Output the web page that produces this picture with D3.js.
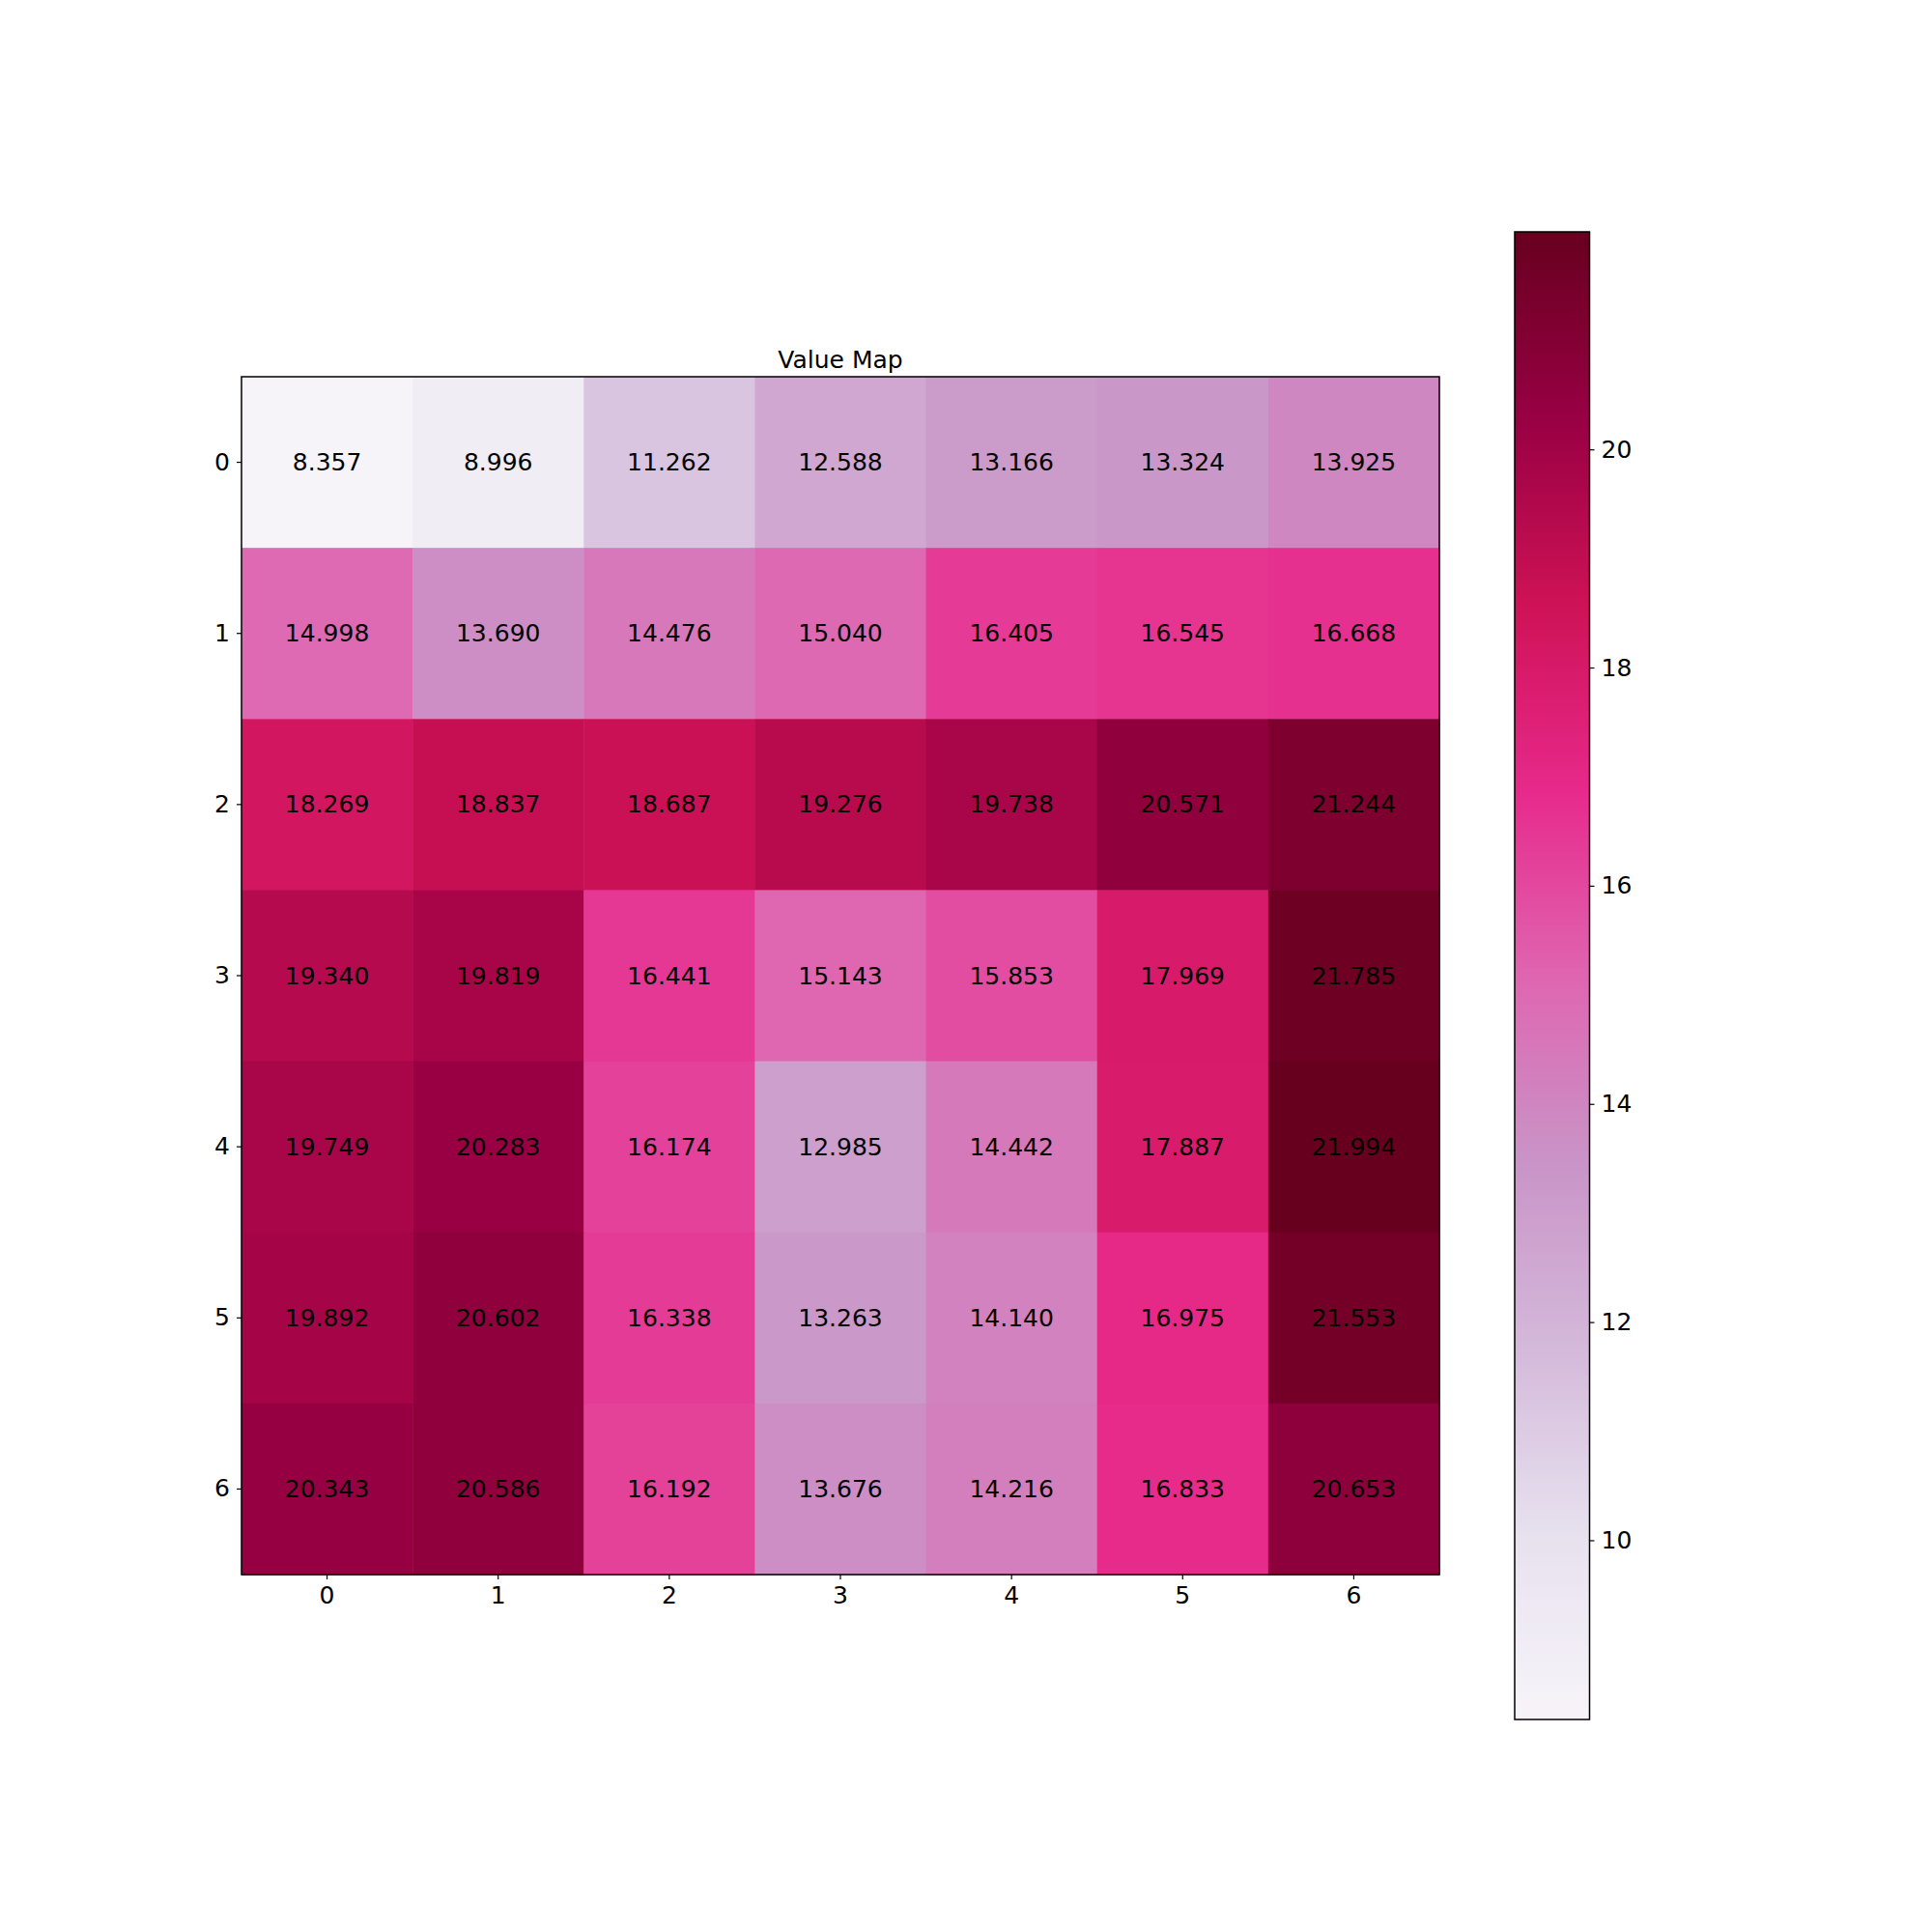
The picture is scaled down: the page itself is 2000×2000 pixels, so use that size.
<!DOCTYPE html>
<html><head><meta charset="utf-8">
<script src="https://cdn.jsdelivr.net/npm/d3@7"></script>
<style>body{margin:0;background:#fff}text{font-family:"DejaVu Sans",sans-serif}</style>
</head><body>
<svg id="c" width="2000" height="2000"></svg>
<script>
const rowLabels = ["0","1","2","3","4","5","6"];
const colLabels = ["0","1","2","3","4","5","6"];
const values = [
  [8.357, 8.996, 11.262, 12.588, 13.166, 13.324, 13.925],
  [14.998, 13.690, 14.476, 15.040, 16.405, 16.545, 16.668],
  [18.269, 18.837, 18.687, 19.276, 19.738, 20.571, 21.244],
  [19.340, 19.819, 16.441, 15.143, 15.853, 17.969, 21.785],
  [19.749, 20.283, 16.174, 12.985, 14.442, 17.887, 21.994],
  [19.892, 20.602, 16.338, 13.263, 14.140, 16.975, 21.553],
  [20.343, 20.586, 16.192, 13.676, 14.216, 16.833, 20.653]
];
const colorbarTicks = [10, 12, 14, 16, 18, 20];
const title = "Value Map";
const puRd = ["#f7f4f9","#e7e1ef","#d4b9da","#c994c7","#df65b0","#e7298a","#ce1256","#980043","#67001f"];

const svg = d3.select("#c");
const L = 250, T = 390, W = 1240, H = 1240;
const flat = values.flat();
const vmin = d3.min(flat), vmax = d3.max(flat);
const t = d3.scaleLinear().domain([vmin, vmax]).range([0, 1]);
const cmap = d3.scaleLinear().domain(d3.range(puRd.length).map(i => i / (puRd.length - 1))).range(puRd).interpolate(d3.interpolateRgb).clamp(true);
const color = v => cmap(t(v));

const x = d3.scaleBand().domain(colLabels).range([L, L + W]);
const y = d3.scaleBand().domain(rowLabels).range([T, T + H]);

const cells = [];
values.forEach((row, i) => row.forEach((v, j) => cells.push({r: rowLabels[i], c: colLabels[j], v})));

svg.append("g").selectAll("rect").data(cells).join("rect")
  .attr("x", d => x(d.c)).attr("y", d => y(d.r))
  .attr("width", x.bandwidth() + 0.5).attr("height", y.bandwidth() + 0.5)
  .attr("fill", d => color(d.v));

svg.append("g").selectAll("text").data(cells).join("text")
  .attr("x", d => x(d.c) + x.bandwidth() / 2)
  .attr("y", d => y(d.r) + y.bandwidth() / 2)
  .attr("text-anchor", "middle").attr("dominant-baseline", "central")
  .attr("font-size", 25).attr("fill", "#000")
  .text(d => d.v.toFixed(3));

svg.append("rect").attr("x", L).attr("y", T).attr("width", W).attr("height", H)
  .attr("fill", "none").attr("stroke", "#000").attr("stroke-width", 1.5);

const xAxis = svg.append("g").attr("transform", `translate(0,${T + H})`)
  .call(d3.axisBottom(x).tickSize(5).tickPadding(7));
const yAxis = svg.append("g").attr("transform", `translate(${L},0)`)
  .call(d3.axisLeft(y).tickSize(5).tickPadding(7));
[xAxis, yAxis].forEach(a => {
  a.select(".domain").remove();
  a.selectAll("text").attr("font-size", 25).attr("font-family", "DejaVu Sans").attr("fill", "#000");
  a.selectAll("line").attr("stroke", "#000").attr("stroke-width", 1.2);
});

svg.append("text").attr("x", L + W / 2).attr("y", T - 9)
  .attr("text-anchor", "middle").attr("font-size", 25).attr("fill", "#000").text(title);

// colorbar
const CX = 1568, CY = 240, CW = 77.5, CH = 1540;
const cy = d3.scaleLinear().domain([vmin, vmax]).range([CY + CH, CY]);
const defs = svg.append("defs");
const grad = defs.append("linearGradient").attr("id", "cb").attr("x1", 0).attr("y1", 1).attr("x2", 0).attr("y2", 0);
grad.selectAll("stop").data(d3.range(0, 1.0001, 0.01)).join("stop")
  .attr("offset", d => d).attr("stop-color", d => cmap(d));
svg.append("rect").attr("x", CX).attr("y", CY).attr("width", CW).attr("height", CH)
  .attr("fill", "url(#cb)").attr("stroke", "#000").attr("stroke-width", 1.5);
const cAxis = svg.append("g").attr("transform", `translate(${CX + CW},0)`)
  .call(d3.axisRight(cy).tickValues(colorbarTicks).tickFormat(d3.format("d")).tickSize(5).tickPadding(7));
cAxis.select(".domain").remove();
cAxis.selectAll("text").attr("font-size", 25).attr("font-family", "DejaVu Sans").attr("fill", "#000");
cAxis.selectAll("line").attr("stroke", "#000").attr("stroke-width", 1.2);
</script>
</body></html>
